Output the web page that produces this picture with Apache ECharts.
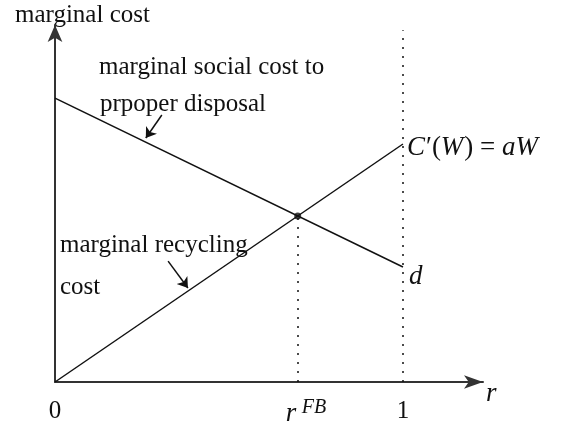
<!DOCTYPE html>
<html>
<head>
<meta charset="utf-8">
<script src="https://cdn.jsdelivr.net/npm/echarts@6/dist/echarts.min.js"></script>
<style>
  html, body { margin: 0; padding: 0; background: #fff; }
  #chart { width: 565px; height: 430px; }
</style>
</head>
<body>
<div id="chart"></div>
<script>
// r at both ends of the two cost curves
const rEnds = [0, 1]
// marginal social cost to proper disposal (falls to d at r = 1)
const socialCost = [1.193, 0.483]
// marginal recycling cost C'(W) = aW
const recyclingCost = [0, 1]
// first best point
const rFB = 0.6975
const costFB = 0.6975
// x tick labels
const tickValues = [0, 1]
const tickLabels = ['0', '1']
// annotation arrows, [tail, tip]
const socialArrow = [[0.307, 1.122], [0.261, 1.025]]
const recyclingArrow = [[0.325, 0.508], [0.382, 0.395]]

const X_MAX = 1.23
const Y_MAX = 1.5
const INK = '#111'

const chartDom = document.getElementById('chart')
const myChart = echarts.init(chartDom, null, { renderer: 'canvas' })

const option = {
  animation: false,
  grid: { left: 55, right: 82, top: 25, bottom: 48 },
  xAxis: {
    type: 'value',
    min: 0,
    max: X_MAX,
    axisLine: {
      show: true,
      onZero: false,
      symbol: ['none', 'arrow'],
      symbolSize: [10, 19],
      lineStyle: { color: '#333', width: 2 },
    },
    axisTick: { show: false },
    axisLabel: { show: false },
    splitLine: { show: false },
  },
  yAxis: {
    type: 'value',
    min: 0,
    max: Y_MAX,
    axisLine: {
      show: true,
      onZero: false,
      symbol: ['none', 'arrow'],
      symbolSize: [11, 17],
      lineStyle: { color: '#333', width: 2 },
    },
    axisTick: { show: false },
    axisLabel: { show: false },
    splitLine: { show: false },
  },
  series: [
    {
      name: 'social',
      type: 'line',
      symbol: 'none',
      data: rEnds.map((r, i) => [r, socialCost[i]]),
      lineStyle: { color: INK, width: 1.5 },
    },
    {
      name: 'recycling',
      type: 'line',
      symbol: 'none',
      data: rEnds.map((r, i) => [r, recyclingCost[i]]),
      lineStyle: { color: INK, width: 1.5 },
      markLine: {
        silent: true,
        symbol: 'none',
        label: { show: false },
        lineStyle: { color: INK, width: 1.5, type: [2, 7] },
        data: [
          [{ coord: [1, 0] }, { coord: [1, Y_MAX * 0.985] }],
          [{ coord: [rFB, 0] }, { coord: [rFB, costFB] }],
        ],
      },
    },
    {
      name: 'fb',
      type: 'scatter',
      symbolSize: 7,
      itemStyle: { color: INK },
      data: [[rFB, costFB]],
      z: 5,
    },
    {
      name: 'arrows',
      type: 'lines',
      coordinateSystem: 'cartesian2d',
      symbol: ['none', 'arrow'],
      symbolSize: 10,
      lineStyle: { color: INK, width: 1.5, curveness: 0, opacity: 1 },
      data: [{ coords: socialArrow }, { coords: recyclingArrow }],
    },
  ],
}

myChart.setOption(option)

// measure text with a scratch canvas
const ctx = document.createElement('canvas').getContext('2d')
const fontOf = (size, italic) => (italic ? 'italic ' : '') + size + 'px Liberation Serif'
const widthOf = (text, size, italic) => {
  ctx.font = fontOf(size, italic)
  return ctx.measureText(text).width
}

// text placed by left edge x and baseline y (default top alignment)
const txt = (text, x, base, size, italic) => {
  const style = { text: text, fill: INK }
  if (italic) {
    style.font = fontOf(size, true)
  } else {
    style.fontFamily = 'Liberation Serif'
    style.fontSize = size
  }
  return { type: 'text', x: x, y: base - size * 0.805, style: style }
}

const px = (v) => myChart.convertToPixel({ gridIndex: 0 }, v)
const xAxisY = px([0, 0])[1]
const fbX = px([rFB, 0])[0]
const oneX = px([1, 0])[0]

const graphics = [
  txt('marginal cost', 15, 23, 25),
  txt('marginal social cost to', 99, 75, 25),
  txt('prpoper disposal', 100, 112, 25),
  txt('marginal recycling', 60, 253, 25),
  txt('cost', 60, 295, 25),
  txt('d', oneX + 6, 285, 27, true),
  txt('r', 486, 402, 27, true),
  txt('r', fbX - 12, 422, 27, true),
  txt('FB', fbX + 4, 414, 20, true),
]

// C'(W) = aW, piece by piece
let cx = oneX + 4
const pieces = [['C', true], ['\u2032(', false], ['W', true], [') = ', false], ['aW', true]]
pieces.forEach(([s, it]) => {
  graphics.push(txt(s, cx, 156, 27, it))
  cx += widthOf(s, 27, it) + (it ? 1 : 0)
})

tickValues.forEach((v, i) => {
  const w = widthOf(tickLabels[i], 25, false)
  graphics.push(txt(tickLabels[i], px([v, 0])[0] - w / 2, xAxisY + 37, 25, false))
})

myChart.setOption({ graphic: graphics })
</script>
</body>
</html>
